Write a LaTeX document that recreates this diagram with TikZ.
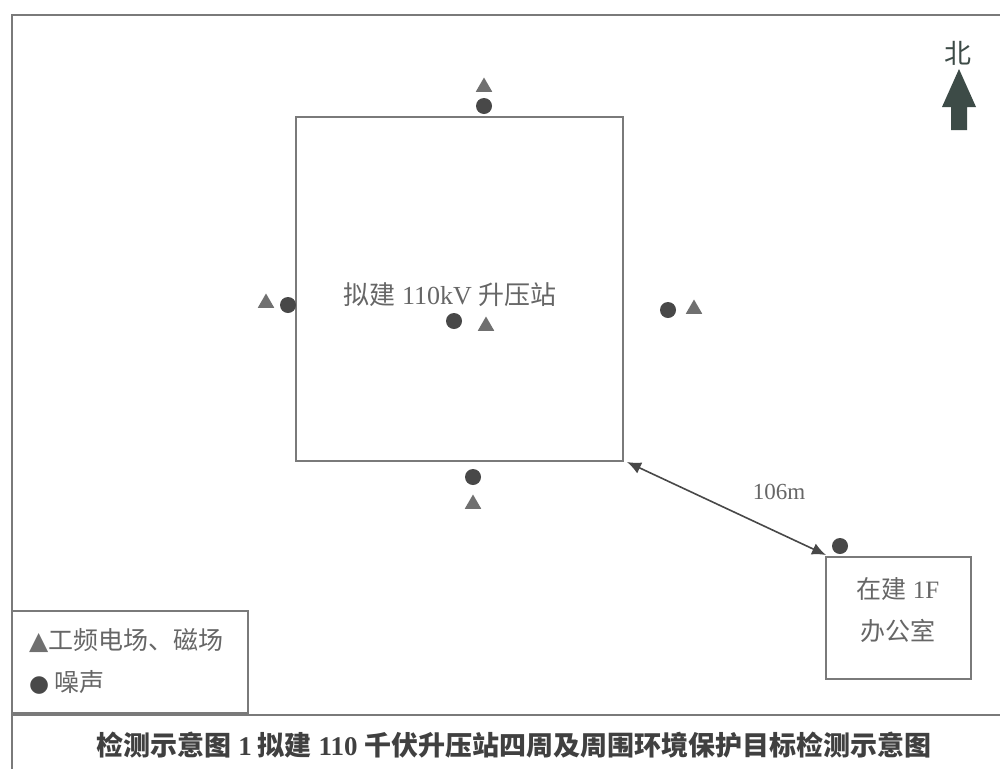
\documentclass[tikz,border=0pt]{standalone}
\usepackage{fontspec}
\setmainfont{Liberation Serif}
\newfontfamily\cjk{Noto Sans CJK SC}
\newfontfamily\sym{DejaVu Sans}
\usetikzlibrary{shapes.geometric,arrows.meta}
\definecolor{linegray}{HTML}{7A7A7A}
\definecolor{txtgray}{HTML}{666666}
\definecolor{markgray}{HTML}{707070}
\definecolor{markdark}{HTML}{484848}
\definecolor{northc}{HTML}{3D4B47}
\tikzset{
  frame/.style={draw=linegray, line width=1.6pt},
  boxline/.style={draw=linegray, line width=1.8pt},
  tri/.style={regular polygon, regular polygon sides=3, fill=markgray, inner sep=0pt, minimum size=19pt},
  dot/.style={circle, fill=markdark, inner sep=0pt, minimum size=16pt},
  lbl/.style={text=txtgray, inner sep=0pt},
}
\begin{document}
\begin{tikzpicture}[x=1pt,y=-1pt]
\useasboundingbox (0,0) rectangle (1000,769);
\fill[white] (0,0) rectangle (1000,769);
% outer frame
\draw[frame] (1000,15) -- (12,15) -- (12,769);
\draw[frame] (12,715) -- (1000,715);
% main station box
\draw[boxline] (296,117) rectangle (623,461);
\node[lbl, font=\fontsize{26}{30}\selectfont] (st) at (450,295) {{\cjk 拟建} 110kV {\cjk 升压站}};
% markers
\node[tri] (t0) at (486,326) {};
\node[dot] (c0) at (454,321) {};
\node[tri] (t1) at (484,87) {};
\node[dot] (c1) at (484,106) {};
\node[tri] (t2) at (266,303) {};
\node[dot] (c2) at (288,305) {};
\node[dot] (c3) at (668,310) {};
\node[tri] (t3) at (694,309) {};
\node[dot] (c4) at (473,477) {};
\node[tri] (t4) at (473,504) {};
% office
\draw[boxline] (826,557) rectangle (971,679);
\node[lbl, font=\fontsize{25}{30}\selectfont] (of1) at (898,589) {{\cjk 在建} 1F};
\node[lbl, font=\fontsize{25}{30}\selectfont] (of2) at (898,631) {\cjk 办公室};
\node[dot] (c5) at (840,546) {};
\coordinate (stc) at (627,462);
\coordinate (ofc) at (826,555);
% distance arrow
\draw[draw=markdark, line width=1.6pt, {Latex[length=14pt,width=12pt]}-{Latex[length=14pt,width=12pt]}] (stc) -- (ofc);
\node[lbl, font=\fontsize{23}{26}\selectfont] (d) at (779,492) {106m};
% north
\node[lbl, text=northc, font=\cjk\fontsize{27}{30}\selectfont] (n) at (958,53) {北};
\fill[northc] (951,130) -- (951,107) -- (942,107) -- (959,69) -- (976,107) -- (967,107) -- (967,130) -- cycle;
% legend
\draw[boxline] (12,611) rectangle (248,713);
\node[lbl, anchor=west, font=\fontsize{25}{28}\selectfont] (l1) at (29,641) {{\sym\color{markgray}\fontsize{25}{26}\selectfont▲}{\cjk 工频电场、磁场}};
\node[lbl, anchor=west, font=\fontsize{25}{28}\selectfont] (l2) at (29,682) {{\sym\color{markdark}\fontsize{23}{24}\selectfont●}\hspace{5pt}{\cjk 噪声}};
% caption
\node[text=black!75, inner sep=0pt, font=\bfseries\fontsize{27}{30}\selectfont] (cap) at (514,745) {{\cjk\bfseries 检测示意图} 1\hspace{6pt}{\cjk\bfseries 拟建} 110 {\cjk\bfseries 千伏升压站四周及周围环境保护目标检测示意图}};
\end{tikzpicture}
\end{document}
